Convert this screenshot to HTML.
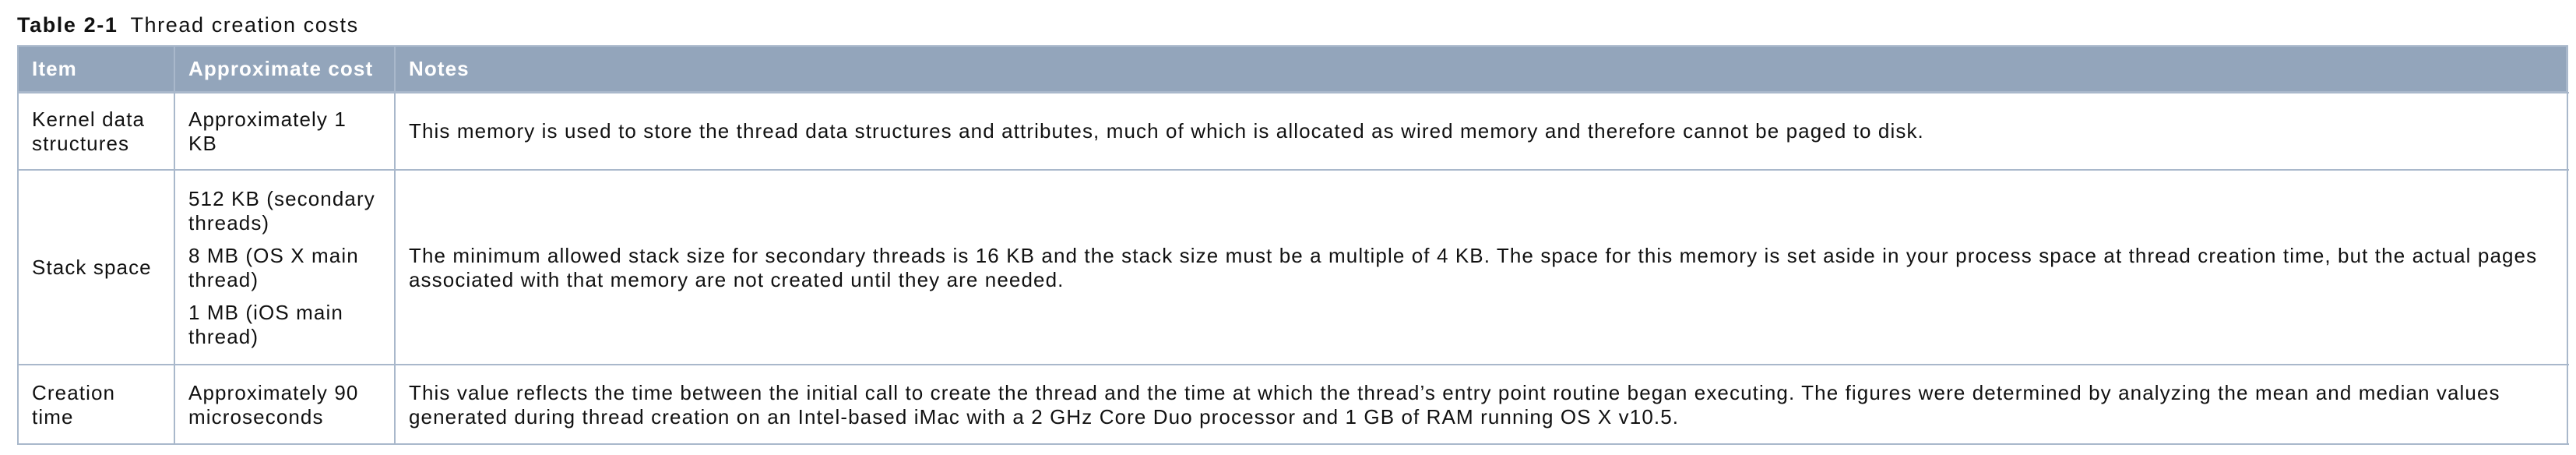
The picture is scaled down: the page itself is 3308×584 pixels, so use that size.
<!DOCTYPE html>
<html><head><meta charset="utf-8"><style>
*{margin:0;padding:0;box-sizing:border-box}
body{width:3308px;height:584px;background:#fff;position:relative;overflow:hidden;font-family:"Liberation Sans",sans-serif;color:#111;font-size:26px;letter-spacing:1.1px}
.t{position:absolute;left:22px;top:14px;font-size:27px;line-height:36px;letter-spacing:1.6px}
.t b{margin-right:16px}
.hd{position:absolute;left:22px;top:58px;width:3275px;height:61px;background:#93a5bb;border:2px solid #a9b8cb}
.c{position:absolute;display:flex;flex-direction:column;justify-content:center;line-height:31px;padding-left:19px;white-space:nowrap}
.h{color:#fff;font-weight:bold;font-size:26px}
.v{position:absolute;top:58px;width:2px;height:513px;background:#a9b8cb}
.hl{position:absolute;left:22px;width:3277px;height:2px;background:#a9b8cb}
p+p{margin-top:11px}
</style></head><body>
<div class="t"><b>Table 2-1</b>Thread creation costs</div>
<div class="hd"></div>
<div class="v" style="left:22px"></div>
<div class="v" style="left:223px"></div>
<div class="v" style="left:506px"></div>
<div class="v" style="left:3296px"></div>
<div class="hl" style="top:118px"></div>
<div class="hl" style="top:217px"></div>
<div class="hl" style="top:467px"></div>
<div class="hl" style="top:569px"></div>

<div class="c h" style="left:22px;top:58px;width:201px;height:61px">Item</div>
<div class="c h" style="left:223px;top:58px;width:283px;height:61px">Approximate cost</div>
<div class="c h" style="left:506px;top:58px;width:2790px;height:61px">Notes</div>

<div class="c" style="left:22px;top:119px;width:201px;height:99px">Kernel data<br>structures</div>
<div class="c" style="left:223px;top:119px;width:283px;height:99px">Approximately 1<br>KB</div>
<div class="c" style="left:506px;top:119px;width:2790px;height:99px">This memory is used to store the thread data structures and attributes, much of which is allocated as wired memory and therefore cannot be paged to disk.</div>

<div class="c" style="left:22px;top:219px;width:201px;height:249px">Stack space</div>
<div class="c" style="left:223px;top:219px;width:283px;height:249px"><p>512 KB (secondary<br>threads)</p><p>8 MB (OS X main<br>thread)</p><p>1 MB (iOS main<br>thread)</p></div>
<div class="c" style="left:506px;top:219px;width:2790px;height:249px">The minimum allowed stack size for secondary threads is 16 KB and the stack size must be a multiple of 4 KB. The space for this memory is set aside in your process space at thread creation time, but the actual pages<br>associated with that memory are not created until they are needed.</div>

<div class="c" style="left:22px;top:469px;width:201px;height:101px">Creation<br>time</div>
<div class="c" style="left:223px;top:469px;width:283px;height:101px">Approximately 90<br>microseconds</div>
<div class="c" style="left:506px;top:469px;width:2790px;height:101px">This value reflects the time between the initial call to create the thread and the time at which the thread’s entry point routine began executing. The figures were determined by analyzing the mean and median values<br>generated during thread creation on an Intel-based iMac with a 2 GHz Core Duo processor and 1 GB of RAM running OS X v10.5.</div>
</body></html>
